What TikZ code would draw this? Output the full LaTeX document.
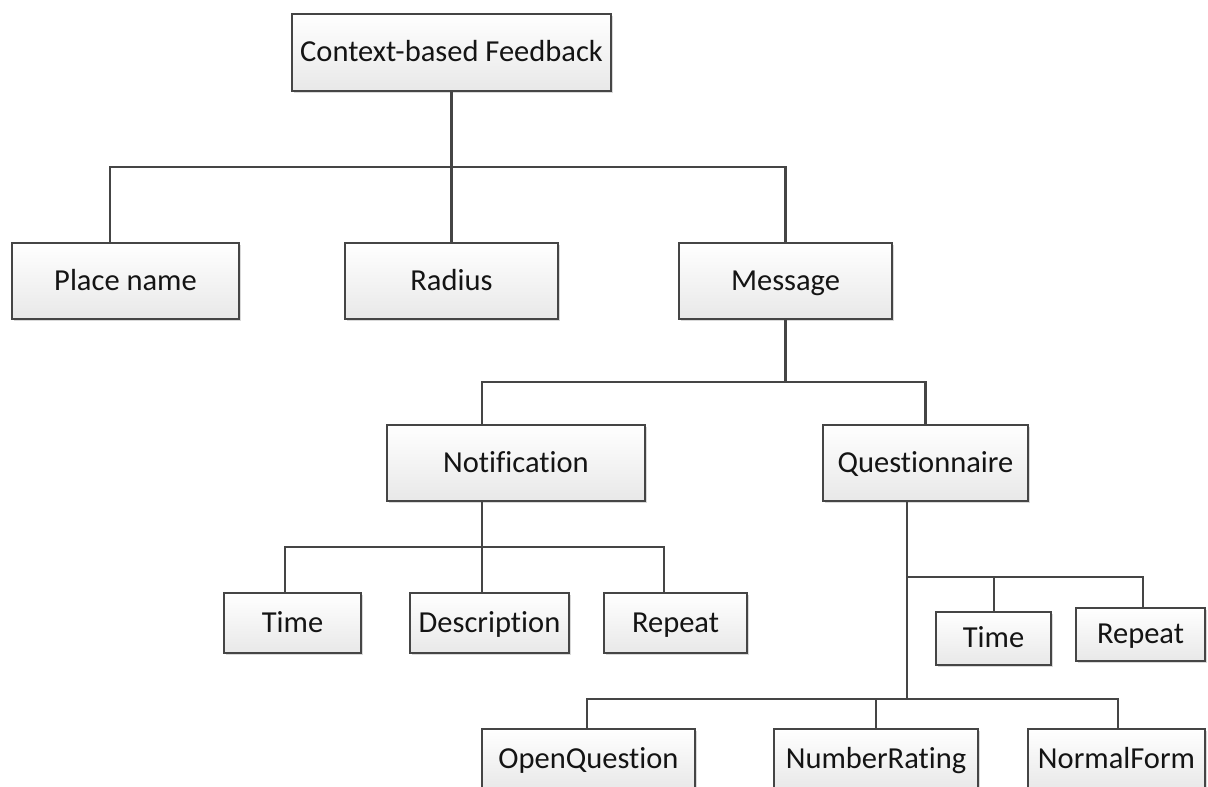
\documentclass[tikz,border=0pt]{standalone}
\usepackage{fontspec}
\setmainfont{Carlito}[RawFeature={-liga;-clig;-dlig}]
\usetikzlibrary{shadows}
\definecolor{edge}{HTML}{454545}
\tikzset{
  box/.style={rectangle, draw=edge, line width=2.3pt,
    top color=white, bottom color=black!9,
    drop shadow={shadow xshift=1.5pt, shadow yshift=-1.5pt, fill=black, opacity=0.15},
    font=\fontsize{30.5}{34}\selectfont, text=black!92,
    text height=23pt, text depth=4.5pt,
    inner sep=0pt, outer sep=0pt},
  conn/.style={draw=edge, line width=2.3pt, line cap=rect},
}
\begin{document}
\begin{tikzpicture}[x=1pt, y=1pt]
\fill[white] (0,0) rectangle (1208,-787);
\clip (0,0) rectangle (1208,-787);

% level 0
\node[box, minimum width=319pt, minimum height=77pt] (root) at (451.5,-52.5) {Context-based Feedback};

% level 1
\node[box, minimum width=227pt, minimum height=76pt] (pn)  at (125.5,-281) {Place name};
\node[box, minimum width=213pt, minimum height=76pt] (rad) at (451.5,-281) {Radius};
\node[box, minimum width=213pt, minimum height=76pt] (msg) at (785.5,-281) {Message};

% level 2
\node[box, minimum width=258pt, minimum height=76pt] (notif) at (516,-463)   {Notification};
\node[box, minimum width=205pt, minimum height=76pt] (quest) at (925.5,-463) {Questionnaire};

% notification children
\node[box, minimum width=137pt, minimum height=60pt] (nt)   at (292.5,-623) {Time};
\node[box, minimum width=159pt, minimum height=60pt] (nd)   at (489.5,-623) {Description};
\node[box, minimum width=143pt, minimum height=60pt] (nrep) at (675.5,-623) {Repeat};

% questionnaire settings
\node[box, minimum width=115pt, minimum height=53pt] (qt) at (993.5,-638.5)  {Time};
\node[box, minimum width=129pt, minimum height=53pt] (qr) at (1140.5,-634.5) {Repeat};

% question types
\node[box, minimum width=213pt, minimum height=61pt] (oq) at (588.5,-759.5)  {OpenQuestion};
\node[box, minimum width=204pt, minimum height=61pt] (nr) at (876,-759.5)    {NumberRating};
\node[box, minimum width=177pt, minimum height=61pt] (nf) at (1116.5,-759.5) {NormalForm};

% junction points of the buses
\coordinate (b1a) at (110,-167);
\coordinate (b1c) at (785.5,-167);
\coordinate (b2a) at (482,-382);
\coordinate (b2c) at (925.5,-382);
\coordinate (b3a) at (285,-547);
\coordinate (b3m) at (482,-547);
\coordinate (b3c) at (664,-547);
\coordinate (b4a) at (907,-577);
\coordinate (b4t) at (994,-577);
\coordinate (b4r) at (1143,-577);
\coordinate (b5a) at (587,-699);
\coordinate (b5n) at (876,-699);
\coordinate (b5m) at (907,-699);
\coordinate (b5r) at (1118,-699);

% root -> level 1
\draw[conn] (root.south) -- (root.south |- b1a);
\draw[conn] (pn.north -| b1a) -- (b1a) -- (b1c) -- (msg.north);
\draw[conn] (rad.north) -- (rad.north |- b1a);

% message -> level 2
\draw[conn] (msg.south) -- (msg.south |- b2a);
\draw[conn] (notif.north -| b2a) -- (b2a) -- (b2c) -- (quest.north);

% notification -> children
\draw[conn] (notif.south -| b3m) -- (b3m);
\draw[conn] (nt.north -| b3a) -- (b3a) -- (b3c) -- (nrep.north -| b3c);
\draw[conn] (nd.north -| b3m) -- (b3m);

% questionnaire -> settings and question types
\draw[conn] (quest.south -| b4a) -- (b5m);
\draw[conn] (b4a) -- (b4r) -- (qr.north -| b4r);
\draw[conn] (qt.north -| b4t) -- (b4t);
\draw[conn] (oq.north -| b5a) -- (b5a) -- (b5r) -- (nf.north -| b5r);
\draw[conn] (nr.north -| b5n) -- (b5n);
\end{tikzpicture}
\end{document}
